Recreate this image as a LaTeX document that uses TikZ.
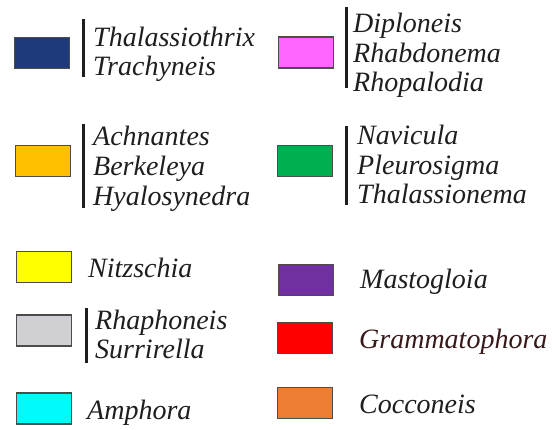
\documentclass[tikz,border=0pt]{standalone}
\usepackage{fontspec}
\setmainfont{Liberation Serif}
\usepackage{tikz}
\usepackage{xcolor}
\usetikzlibrary{positioning}
\definecolor{navyblue}{RGB}{31,58,122}
\definecolor{goldfill}{RGB}{255,192,0}
\definecolor{pinkfill}{RGB}{255,102,255}
\definecolor{greenfill}{RGB}{0,176,80}
\definecolor{yellowfill}{RGB}{255,255,0}
\definecolor{greyfill}{RGB}{208,208,212}
\definecolor{cyanfill}{RGB}{0,250,250}
\definecolor{purplefill}{RGB}{112,48,160}
\definecolor{redfill}{RGB}{255,0,0}
\definecolor{orangefill}{RGB}{237,125,49}
\definecolor{inkgrey}{RGB}{30,30,30}
\definecolor{inkred}{RGB}{55,25,25}
\tikzstyle{swatch}=[rectangle, draw=black!70, line width=1.2pt,
  minimum width=55pt, minimum height=31pt, inner sep=0pt]
\tikzstyle{taxa}=[font=\itshape\fontsize{28}{29.5}\selectfont, align=left,
  inner sep=0pt, anchor=base west, text=inkgrey]
\tikzstyle{gbar}=[line width=3pt, color=inkgrey]

\begin{document}
\begin{tikzpicture}[x=1pt,y=-1pt]
    \useasboundingbox (0,0) rectangle (553,430);
    % left column (labels placed at baseline of last line)
    \node[swatch, fill=navyblue] (thal) at (41.7,53) {};
    \node[taxa] (thalt) at (93,76) {Thalassiothrix\\Trachyneis};
    \draw[gbar] (83,19)--(83,77);
    \node[swatch, fill=goldfill] (achn) at (43,161) {};
    \node[taxa] (achnt) at (93,205) {Achnantes\\Berkeleya\\Hyalosynedra};
    \draw[gbar] (83.3,124)--(83.3,208);
    \node[swatch, fill=yellowfill] (nitz) at (44,267) {};
    \node[taxa] (nitzt) at (88,277) {Nitzschia};
    \node[swatch, fill=greyfill] (rhap) at (44,330.5) {};
    \node[taxa] (rhapt) at (95,358.5) {Rhaphoneis\\Surrirella};
    \draw[gbar] (86,308)--(86,363);
    \node[swatch, fill=cyanfill] (amph) at (44,408.5) {};
    \node[taxa] (ampht) at (87,419) {Amphora};
    % right column
    \node[swatch, fill=pinkfill] (dipl) at (306,52.5) {};
    \node[taxa] (diplt) at (353,91.7) {Diploneis\\Rhabdonema\\Rhopalodia};
    \draw[gbar] (346,6.7)--(346,88.3);
    \node[swatch, fill=greenfill] (navi) at (304.7,161) {};
    \node[taxa] (navit) at (357,204) {Navicula\\Pleurosigma\\Thalassionema};
    \draw[gbar] (346,126)--(346,205);
    \node[swatch, fill=purplefill] (mast) at (306.3,279.6) {};
    \node[taxa] (mastt) at (360,288) {Mastogloia};
    \node[swatch, fill=redfill] (gram) at (305.3,338.3) {};
    \node[taxa, text=inkred] (gramt) at (359,348) {Grammatophora};
    \node[swatch, fill=orangefill] (cocc) at (305.3,403) {};
    \node[taxa] (cocct) at (359,413) {Cocconeis};
\end{tikzpicture}
\end{document}
